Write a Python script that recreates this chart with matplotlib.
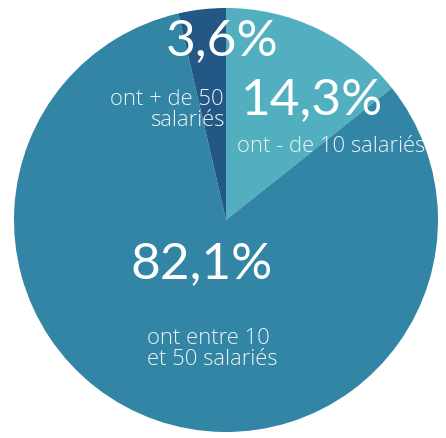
import matplotlib
matplotlib.use("Agg")
import matplotlib.pyplot as plt

# Données
parts = [14.3, 82.1, 3.6]
pourcentages = ["14,3%", "82,1%", "3,6%"]
legendes = ["ont - de 10 salariés", "ont entre 10\net 50 salariés", "ont + de 50\nsalariés"]
couleurs = ["#52afbf", "#3285a5", "#235886"]

W, H = 446, 438
cx, cy, r = 226, 220, 212

def pos(px, py):
    # pixels -> coordonnées du camembert
    return (px - cx) / r, (cy - py) / r

fig = plt.figure(figsize=(W / 100, H / 100), dpi=100)
ax = fig.add_axes([0, 0, 1, 1])
ax.pie(parts, colors=couleurs, startangle=90, counterclock=False, radius=1,
       wedgeprops=dict(linewidth=0))
ax.set_xlim(-cx / r, (W - cx) / r)
ax.set_ylim(-(H - cy) / r, cy / r)
ax.axis("off")

gros = dict(color="white", fontsize=37, family="Lato", fontweight="normal",
            ha="center", va="center")
petit = dict(color="#eef4f7", fontsize=15.8, family="Open Sans", fontweight="light",
             linespacing=1.0)

ax.text(*pos(312, 100), pourcentages[0], **gros)
ax.text(*pos(237, 147), legendes[0], ha="left", va="center", **petit)

ax.text(*pos(202, 264), pourcentages[1], **gros)
ax.text(*pos(147, 349), legendes[1], ha="left", va="center", **petit)

ax.text(*pos(222, 41), pourcentages[2], **gros)
ax.text(*pos(224, 110), legendes[2], ha="right", va="center",
        multialignment="right", **petit)

fig.savefig("out.png", dpi=100)
